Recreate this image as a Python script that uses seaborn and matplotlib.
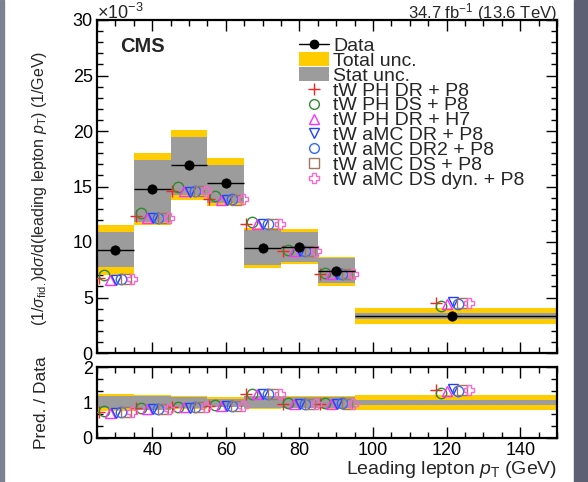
import numpy as np
import pandas as pd
import matplotlib
matplotlib.use("Agg")
import matplotlib.pyplot as plt
import seaborn as sns
from matplotlib.lines import Line2D
from matplotlib.patches import Patch, Rectangle
from matplotlib.ticker import MultipleLocator

# bins of leading lepton pT (GeV)
bin_lo = [25, 35, 45, 55, 65, 75, 85, 95]
bin_hi = [35, 45, 55, 65, 75, 85, 95, 150]

# normalised cross section, units of 1e-3 / GeV
data = [9.3, 14.8, 16.95, 15.3, 9.45, 9.55, 7.35, 3.33]
stat_up = [10.9, 17.4, 19.5, 16.9, 11.05, 10.9, 8.55, 3.6]
stat_dn = [7.75, 11.8, 14.2, 13.5, 7.9, 8.2, 6.3, 3.1]
tot_up = [11.5, 18.0, 20.1, 17.6, 11.3, 11.2, 8.65, 4.05]
tot_dn = [7.0, 11.5, 13.8, 13.2, 7.65, 8.0, 6.05, 2.65]

labels = ["tW PH DR + P8", "tW PH DS + P8", "tW PH DR + H7", "tW aMC DR + P8",
          "tW aMC DR2 + P8", "tW aMC DS + P8", "tW aMC DS dyn. + P8"]
preds = {
    "tW PH DR + P8":       [6.75, 12.3, 14.6, 13.9, 11.6, 9.2, 7.1, 4.5],
    "tW PH DS + P8":       [7.0, 12.6, 15.0, 14.1, 11.8, 9.3, 7.2, 4.2],
    "tW PH DR + H7":       [6.6, 12.2, 14.6, 13.8, 11.6, 9.2, 7.1, 4.45],
    "tW aMC DR + P8":      [6.6, 12.2, 14.5, 13.8, 11.6, 9.2, 7.1, 4.55],
    "tW aMC DR2 + P8":     [6.7, 12.2, 14.6, 13.9, 11.6, 9.2, 7.15, 4.45],
    "tW aMC DS + P8":      [6.7, 12.2, 14.6, 13.8, 11.6, 9.2, 7.1, 4.5],
    "tW aMC DS dyn. + P8": [6.7, 12.2, 14.6, 13.9, 11.6, 9.2, 7.1, 4.5],
}
styles = {
    "tW PH DR + P8":       ("+", "#ff2020"),
    "tW PH DS + P8":       ("o", "#2e8b2e"),
    "tW PH DR + H7":       ("^", "#ff30ff"),
    "tW aMC DR + P8":      ("v", "#2040ff"),
    "tW aMC DR2 + P8":     ("o", "#3366ff"),
    "tW aMC DS + P8":      ("s", "#a07860"),
    "tW aMC DS dyn. + P8": ("P", "#ff66cc"),
}
offsets = [-4.5, -3.0, -1.4, 0.2, 1.6, 2.8, 4.6]

df = pd.DataFrame({"lo": bin_lo, "hi": bin_hi, "data": data,
                   "stat_up": stat_up, "stat_dn": stat_dn,
                   "tot_up": tot_up, "tot_dn": tot_dn})
df["mid"] = (df.lo + df.hi) / 2
df.loc[df.index[-1], "mid"] = 121.5
df["xerr_lo"] = df.mid - df.lo
df["xerr_hi"] = df.hi - df.mid

sns.set_theme(style="ticks")
plt.rcParams["font.family"] = ["Liberation Sans", "DejaVu Sans"]
plt.rcParams["mathtext.fontset"] = "custom"
plt.rcParams["mathtext.rm"] = "Liberation Sans"
plt.rcParams["mathtext.it"] = "Liberation Sans:italic"

YEL = "#ffcc00"
GRY = "#9c9c9c"

fig = plt.figure(figsize=(5.88, 4.82), dpi=100)
fig.patch.set_facecolor("white")
fig.patches.append(Rectangle((0, 0), 4 / 588, 1, transform=fig.transFigure,
                             color="#7e8190", zorder=-5))
fig.patches.append(Rectangle((574 / 588, 0), 14 / 588, 1, transform=fig.transFigure,
                             color="#5c6072", zorder=-5))

ax = fig.add_axes([97 / 588, 1 - 353 / 482, 460 / 588, 333 / 482])
rax = fig.add_axes([97 / 588, 1 - 438 / 482, 460 / 588, 71 / 482])


def draw_bands(a, up_t, dn_t, up_s, dn_s):
    for i in range(len(bin_lo)):
        w = bin_hi[i] - bin_lo[i]
        a.add_patch(Rectangle((bin_lo[i], dn_t[i]), w, up_t[i] - dn_t[i],
                              color=YEL, lw=0, zorder=1))
        a.add_patch(Rectangle((bin_lo[i], dn_s[i]), w, up_s[i] - dn_s[i],
                              color=GRY, lw=0, zorder=2))


draw_bands(ax, df.tot_up, df.tot_dn, df.stat_up, df.stat_dn)
ax.errorbar(df.mid, df.data, xerr=[df.xerr_lo, df.xerr_hi], fmt="none",
            ecolor="black", elinewidth=1.0, zorder=5)
sns.scatterplot(x=df.mid, y=df.data, ax=ax, color="black", s=45,
                edgecolor="black", zorder=6, legend=False)

for k, lab in enumerate(labels):
    m, c = styles[lab]
    xs = df.mid + offsets[k]
    vals = np.array(preds[lab])
    ratio = vals / df.data.values
    for a, ys in ((ax, vals), (rax, ratio)):
        if m == "+":
            a.plot(xs, ys, ls="none", marker=m, color=c, ms=9, mew=1.0, zorder=4)
        else:
            a.plot(xs, ys, ls="none", marker=m, mfc="none", mec=c, ms=7.5,
                   mew=1.0, zorder=4)

# ratio panel bands
draw_bands(rax, df.tot_up / df.data, df.tot_dn / df.data,
           df.stat_up / df.data, df.stat_dn / df.data)

for a in (ax, rax):
    a.set_xlim(25, 150)
    a.xaxis.set_major_locator(MultipleLocator(20))
    a.xaxis.set_minor_locator(MultipleLocator(5))
    a.tick_params(which="both", direction="in", top=True, right=True,
                  labelsize=13, colors="black", width=1.0, pad=3)
    a.tick_params(which="major", length=8)
    a.tick_params(which="minor", length=4)
    for s in a.spines.values():
        s.set_linewidth(1.6)
        s.set_color("black")

ax.set_ylim(0, 30)
ax.yaxis.set_major_locator(MultipleLocator(5))
ax.yaxis.set_minor_locator(MultipleLocator(1))
ax.tick_params(labelbottom=False)
ax.set_xlabel("")
ax.set_ylabel(r"(1/$\sigma_{\mathrm{fid.}}$)d$\sigma$/d(leading lepton $\mathit{p}_{\mathrm{T}}$) (1/GeV)",
              fontsize=11.5)
ax.yaxis.set_label_coords(-0.105, 0.495)

rax.set_ylim(0, 2)
rax.yaxis.set_major_locator(MultipleLocator(1))
rax.yaxis.set_minor_locator(MultipleLocator(1 / 3))
rax.set_ylabel("Pred. / Data", fontsize=12.5)
rax.yaxis.set_label_coords(-0.105, 0.5)
rax.set_xlabel(r"Leading lepton $\mathit{p}_{\mathrm{T}}$ (GeV)", fontsize=14,
               loc="right", labelpad=0)

ax.text(0.0, 1.004, r"$\times10^{-3}$", transform=ax.transAxes, fontsize=13,
        ha="left", va="baseline")
ax.text(1.0, 1.004, r"34.7 fb$^{-1}$ (13.6 TeV)", transform=ax.transAxes,
        fontsize=12, ha="right", va="baseline")
ax.text(0.05, 0.92, "CMS", transform=ax.transAxes, fontsize=14.5,
        fontweight="bold", ha="left", va="center")

handles = [Line2D([], [], color="black", marker="o", ms=6, lw=1.0),
           Patch(facecolor=YEL, edgecolor="none"),
           Patch(facecolor=GRY, edgecolor="none")]
for lab in labels:
    m, c = styles[lab]
    if m == "+":
        handles.append(Line2D([], [], ls="none", marker=m, color=c, ms=8, mew=1.0))
    else:
        handles.append(Line2D([], [], ls="none", marker=m, mfc="none", mec=c,
                              ms=7, mew=1.0))
leg = ax.legend(handles, ["Data", "Total unc.", "Stat unc."] + labels,
                loc="upper left", bbox_to_anchor=(0.44, 0.948), frameon=False,
                fontsize=14, labelspacing=-0.14, handlelength=1.5,
                handletextpad=0.25, handleheight=0.7, borderpad=0, borderaxespad=0)

fig.savefig("out.png", dpi=100)
